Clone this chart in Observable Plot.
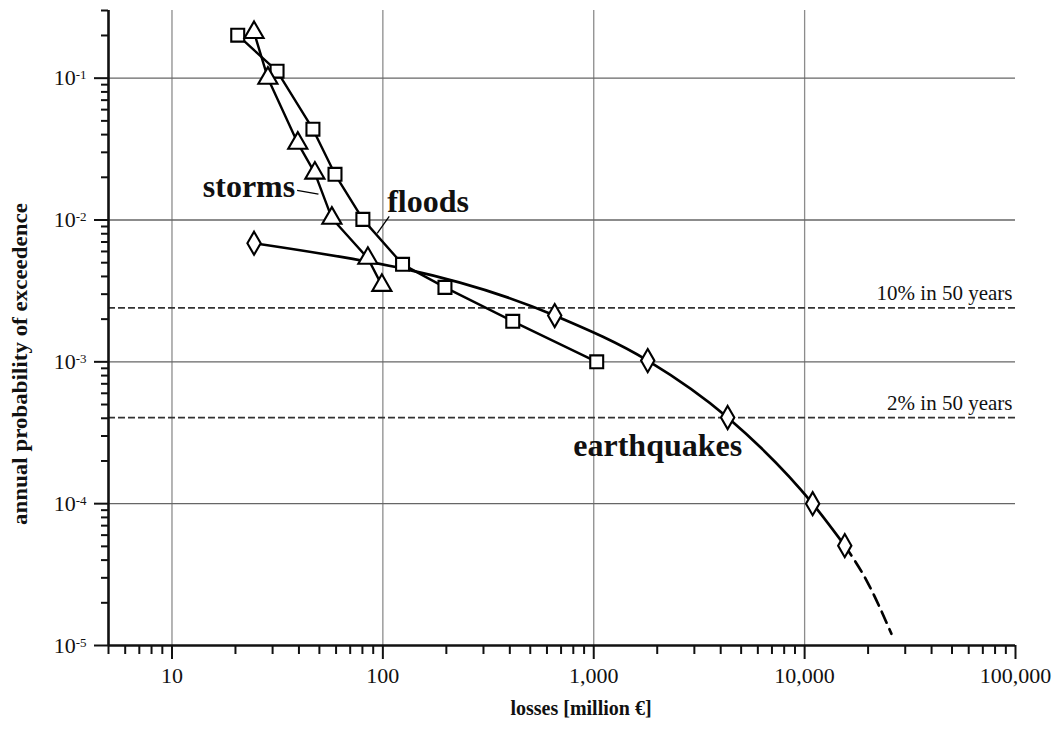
<!DOCTYPE html>
<html>
<head>
<meta charset="utf-8">
<script src="https://cdn.jsdelivr.net/npm/d3@7"></script>
<script src="https://cdn.jsdelivr.net/npm/@observablehq/plot@0.6"></script>
<style>
  html, body { margin: 0; padding: 0; background: #fff; }
  svg { display: block; }
</style>
</head>
<body>
<div id="chart"></div>
<script>
// ---- data (losses in million €, annual probability of exceedence) ----
const stormsLoss = [24.5, 28.5, 39.5, 47.6, 57.3, 84.9, 98.9];
const stormsProb = [0.21, 0.1, 0.0348, 0.0214, 0.0103, 0.00537, 0.00346];

const floodsLoss = [20.5, 31.5, 46.6, 59.3, 80.4, 124, 197, 413, 1033];
const floodsProb = [0.201, 0.112, 0.0437, 0.021, 0.0101, 0.00487, 0.00335, 0.00193, 0.001];

const quakesLoss = [24.5, 653, 1803, 4315, 10917, 15500];
const quakesProb = [0.00686, 0.00212, 0.00102, 0.000405, 0.0001, 0.0000506];

// dashed extrapolation of the earthquake curve
const quakesTailLoss = [15500, 19700, 25800];
const quakesTailProb = [0.0000506, 0.0000286, 0.0000121];

// reference hazard levels
const refLevels = [0.0024, 0.000404];
const refLabels = ["10% in 50 years", "2% in 50 years"];

// series labels (anchor points in data units)
const seriesLabels = ["storms", "floods", "earthquakes"];
const seriesLabelLoss = [38.4, 104.8, 800];
const seriesLabelProb = [0.01445, 0.01132, 0.000218];
const seriesLabelAnchor = ["end", "start", "start"];

// leader lines from labels to curves
const leaderLoss1 = [39.2, 107.2];
const leaderProb1 = [0.0162, 0.0106];
const leaderLoss2 = [49.5, 94.0];
const leaderProb2 = [0.0152, 0.00805];

// axes
const xMajor = [10, 100, 1000, 10000, 100000];
const xTickLabels = ["10", "100", "1,000", "10,000", "100,000"];
const yMajor = [1e-5, 1e-4, 1e-3, 1e-2, 1e-1];
const yExponents = ["-5", "-4", "-3", "-2", "-1"];
const xTitle = "losses [million €]";
const yTitle = "annual probability of exceedence";

// ---- build tables ----
const zip = (xs, ys) => xs.map((x, i) => ({x, y: ys[i]}));
const storms = zip(stormsLoss, stormsProb);
const floods = zip(floodsLoss, floodsProb);
const quakes = zip(quakesLoss, quakesProb);
const quakesTail = zip(quakesTailLoss, quakesTailProb);
const labels = seriesLabels.map((t, i) => ({t, x: seriesLabelLoss[i], y: seriesLabelProb[i], a: seriesLabelAnchor[i]}));
const leaders = leaderLoss1.map((x1, i) => ({x1, y1: leaderProb1[i], x2: leaderLoss2[i], y2: leaderProb2[i]}));

// minor tick positions
const xMinor = [];
for (let d = 1; d <= 10000; d *= 10) for (let k = 2; k <= 9; k++) { const v = k * d; if (v >= 5) xMinor.push(v); }
const yMinor = [];
for (let d = 1e-5; d < 0.1 * 1.01; d *= 10) for (let k = 2; k <= 9; k++) { const v = k * d; if (v <= 0.3 * 1.001) yMinor.push(v); }

const serif = "'Liberation Serif', 'Times New Roman', serif";
const labelStyle = {x: "x", y: "y", text: "t", lineAnchor: "bottom", fontSize: 32, fontWeight: "bold", fill: "#111"};

const chart = Plot.plot({
  width: 1062,
  height: 731,
  marginLeft: 108,
  marginRight: 47,
  marginTop: 10,
  marginBottom: 86,
  style: {fontFamily: serif, fontSize: "22px", color: "#111", background: "#fff"},
  x: {type: "log", domain: [5, 100000], axis: null},
  y: {type: "log", domain: [1e-5, 0.3], axis: null},
  marks: [
    // grid
    Plot.ruleX(xMajor.slice(0, 4), {stroke: "#8c8c8c", strokeWidth: 1.3}),
    Plot.ruleY(yMajor.slice(1), {stroke: "#666", strokeWidth: 1.4}),
    // reference lines
    Plot.ruleY(refLevels, {stroke: "#333", strokeWidth: 1.7, strokeDasharray: "7,3"}),
    Plot.text(refLevels, {y: d => d, text: (d, i) => refLabels[i], frameAnchor: "right", textAnchor: "end",
      lineAnchor: "bottom", dx: -3, dy: -8, fontSize: 21, fill: "#111"}),
    // curves
    Plot.line(quakes, {x: "x", y: "y", curve: "monotone-x", stroke: "#000", strokeWidth: 2.7}),
    Plot.line(quakesTail, {x: "x", y: "y", curve: "monotone-x", stroke: "#000", strokeWidth: 2.7, strokeDasharray: "12,7"}),
    Plot.line(floods, {x: "x", y: "y", stroke: "#000", strokeWidth: 2.4}),
    Plot.line(storms, {x: "x", y: "y", stroke: "#000", strokeWidth: 2.4}),
    // markers
    Plot.dot(floods, {x: "x", y: "y", symbol: "square", r: 7.3, fill: "#fff", stroke: "#000", strokeWidth: 2.1}),
    Plot.dot(storms, {x: "x", y: "y", symbol: d3.symbolTriangle, r: 7.1, fill: "#fff", stroke: "#000", strokeWidth: 2.1}),
    Plot.dot(quakes, {x: "x", y: "y", symbol: d3.symbolDiamond, r: 7.0, fill: "#fff", stroke: "#000", strokeWidth: 2.1}),
    // leader lines & labels
    Plot.link(leaders, {x1: "x1", y1: "y1", x2: "x2", y2: "y2", stroke: "#000", strokeWidth: 1.3}),
    Plot.text(labels.filter(d => d.a === "end"), {...labelStyle, textAnchor: "end"}),
    Plot.text(labels.filter(d => d.a === "start"), {...labelStyle, textAnchor: "start"}),
    // axes lines
    Plot.ruleY([1e-5], {stroke: "#111", strokeWidth: 2.6}),
    Plot.ruleX([5], {stroke: "#111", strokeWidth: 2.6}),
    // x ticks
    Plot.axisX(xMinor, {tickSize: 9, tickFormat: () => "", strokeWidth: 2, stroke: "#111", label: null}),
    Plot.axisX(xMajor, {tickSize: 14, tickPadding: 8, strokeWidth: 2, stroke: "#111", fontSize: 22,
      tickFormat: d => xTickLabels[xMajor.indexOf(d)], label: null}),
    // y ticks
    Plot.axisY(yMinor, {tickSize: 7, tickFormat: () => "", strokeWidth: 2, stroke: "#111", label: null}),
    Plot.axisY(yMajor, {tickSize: 14, tickPadding: 8, strokeWidth: 2, stroke: "#111", fontSize: 22,
      tickFormat: d => "10^" + yExponents[yMajor.indexOf(d)], label: null}),
    // axis titles
    Plot.text([xTitle], {text: d => d, frameAnchor: "bottom", textAnchor: "middle", lineAnchor: "bottom", dx: 19, dy: 69,
      fontSize: 20, fontWeight: "bold", fill: "#111"}),
    Plot.text([yTitle], {text: d => d, frameAnchor: "left", textAnchor: "middle", rotate: -90, lineAnchor: "middle",
      dx: -88, dy: 36, fontSize: 21, fontWeight: "bold", fill: "#111"})
  ]
});

// superscript exponents on the y tick labels; stretch the y title to the reference length
d3.select(chart).selectAll("text").each(function () {
  const t = this.textContent;
  const sel = d3.select(this);
  if (/^10\^/.test(t)) {
    const exp = t.slice(3);
    sel.text("10");
    sel.append("tspan").attr("dy", -6).attr("font-size", 13).text(exp);
  } else if (t === yTitle) {
    sel.attr("textLength", 322).attr("lengthAdjust", "spacingAndGlyphs");
  }
});

document.getElementById("chart").appendChild(chart);
</script>
</body>
</html>
